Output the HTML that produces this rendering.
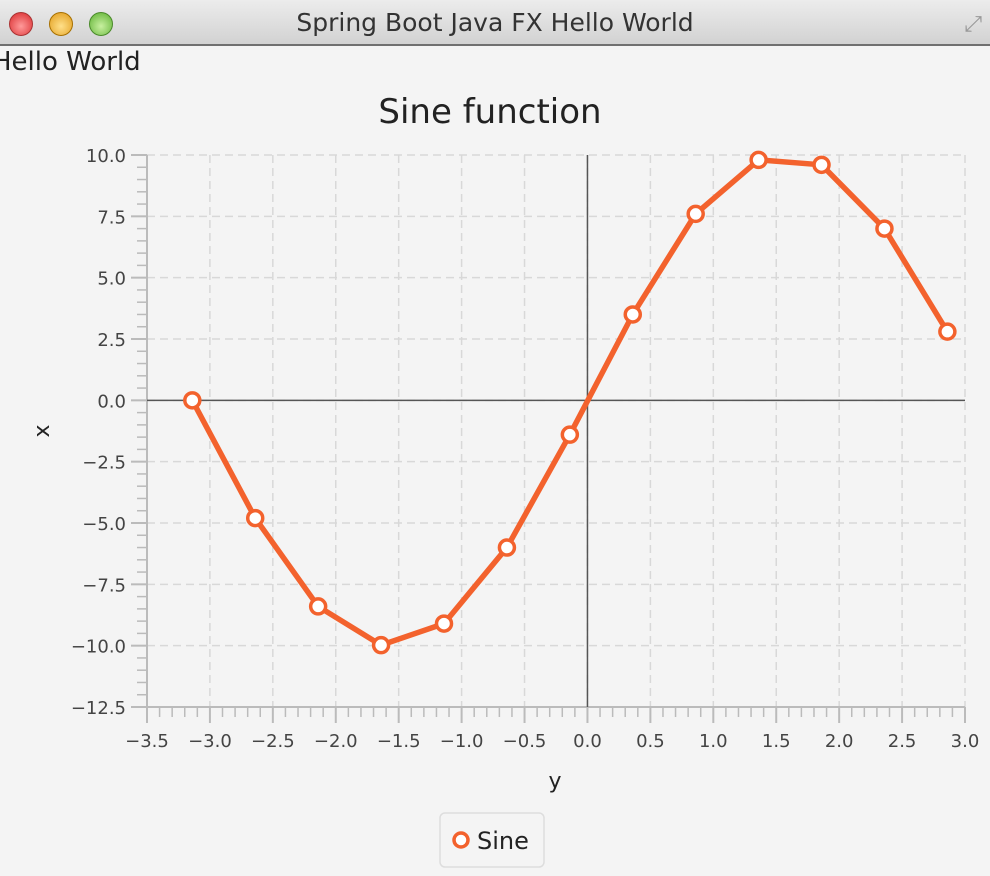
<!DOCTYPE html>
<html><head><meta charset="utf-8"><style>
body{margin:0;width:990px;height:876px;background:#f4f4f4;overflow:hidden;font-family:"DejaVu Sans","Liberation Sans",sans-serif;}
#titlebar{position:absolute;left:0;top:0;width:990px;height:44px;background:linear-gradient(#ececec,#d2d2d2);border-bottom:2px solid #707070;}
#titlebar .t{position:absolute;left:0;width:990px;top:8px;text-align:center;font-size:25px;color:#333;}
.btn{position:absolute;top:12px;width:22px;height:22px;border-radius:50%;}
#hello{position:absolute;left:-8px;top:47px;font-size:26px;color:#222;}
svg{position:absolute;left:0;top:0;font-family:"DejaVu Sans","Liberation Sans",sans-serif}
</style></head><body>
<div id="titlebar">
<div class="btn" style="left:9px;background:radial-gradient(circle at 50% 60%,#ff9a9a,#d8282a);border:1px solid #a33"></div>
<div class="btn" style="left:49px;background:radial-gradient(circle at 50% 60%,#ffe08a,#e09a18);border:1px solid #a77000"></div>
<div class="btn" style="left:89px;background:radial-gradient(circle at 50% 60%,#c8f0a0,#5cb030);border:1px solid #4a8a2a"></div>
<div class="t">Spring Boot Java FX Hello World</div>
<div style="position:absolute;right:8px;top:12px;font-size:22px;color:#999">⤢</div>
</div>
<div id="hello">Hello World</div>
<svg id="chart" width="990" height="876"></svg>
<script>
const xTicks=[-3.5,-3.0,-2.5,-2.0,-1.5,-1.0,-0.5,0.0,0.5,1.0,1.5,2.0,2.5,3.0];
const yTicks=[10.0,7.5,5.0,2.5,0.0,-2.5,-5.0,-7.5,-10.0,-12.5];
const xValues=[-3.14,-2.64,-2.14,-1.64,-1.14,-0.64,-0.14,0.36,0.86,1.36,1.86,2.36,2.86];
const yValues=[0.0,-4.8,-8.4,-9.98,-9.1,-6.0,-1.4,3.5,7.6,9.8,9.6,7.0,2.8];
const NS="http://www.w3.org/2000/svg";
const svg=document.getElementById('chart');
const L=147,R=965,T=155,B=707;
const xMin=-3.5,xMax=3.0,yMin=-12.5,yMax=10.0;
const sx=v=>L+(v-xMin)/(xMax-xMin)*(R-L);
const sy=v=>B-(v-yMin)/(yMax-yMin)*(B-T);
function el(tag,a,txt){const e=document.createElementNS(NS,tag);for(const k in a)e.setAttribute(k,a[k]);if(txt!==undefined)e.textContent=txt;svg.appendChild(e);return e;}
const fmt=v=>(v<0?'\u2212':'')+Math.abs(v).toFixed(1);
let t=el('text',{x:490,y:123,'text-anchor':'middle','font-size':34,fill:'#222'},'Sine function');


xTicks.forEach(v=>{const x=sx(v);
 if(v!==xMin){let g=el('line',{x1:x,x2:x,y1:T,y2:B,stroke:'#d8d8d8','stroke-width':1.5,'stroke-dasharray':'8,5'});}
 el('line',{x1:x,x2:x,y1:B,y2:B+16,stroke:'#bbb','stroke-width':2});
 let lb=el('text',{x:x,y:B+40,'text-anchor':'middle','font-size':18,fill:'#444'},fmt(v));
 
 
});
for(let i=0;i<xTicks.length-1;i++)for(let k=1;k<5;k++){const x=sx(xTicks[i]+k*0.1);el('line',{x1:x,x2:x,y1:B,y2:B+10,stroke:'#bbb','stroke-width':1.5});}
yTicks.forEach(v=>{const y=sy(v);
 if(v!==yMin){let g=el('line',{x1:L,x2:R,y1:y,y2:y,stroke:'#d8d8d8','stroke-width':1.5,'stroke-dasharray':'8,5'});}
 el('line',{x1:L-16,x2:L,y1:y,y2:y,stroke:'#bbb','stroke-width':2});
 let lb=el('text',{x:L-21,y:y+7,'text-anchor':'end','font-size':18,fill:'#444'},fmt(v));
 
 
});
for(let i=0;i<yTicks.length-1;i++)for(let k=1;k<5;k++){const y=sy(yTicks[i]-k*0.5);el('line',{x1:L-10,x2:L,y1:y,y2:y,stroke:'#bbb','stroke-width':1.5});}
el('line',{x1:L,x2:R,y1:B,y2:B,stroke:'#bbb','stroke-width':2});
el('line',{x1:L,x2:L,y1:T,y2:B,stroke:'#bbb','stroke-width':2});
el('line',{x1:L,x2:R,y1:sy(0),y2:sy(0),stroke:'#555','stroke-width':1.5});
el('line',{x1:sx(0),x2:sx(0),y1:T,y2:B,stroke:'#555','stroke-width':1.5});
let xt=el('text',{x:555,y:788,'text-anchor':'middle','font-size':22,fill:'#222'},'y');


let yt=el('text',{x:49,y:431,'text-anchor':'middle','font-size':22,fill:'#222',transform:'rotate(-90 49 431)'},'x');


const pts=xValues.map((x,i)=>sx(x)+','+sy(yValues[i])).join(' ');
let line=el('polyline',{points:pts,fill:'none',stroke:'#f3622d','stroke-width':5.5,'stroke-linejoin':'round'});


xValues.forEach((x,i)=>{let c=el('circle',{cx:sx(x),cy:sy(yValues[i]),r:7.5,fill:'#fff',stroke:'#f3622d','stroke-width':3.5});
 
 });
let lg=el('rect',{x:440,y:813,width:104,height:54,rx:5,fill:'#f4f4f4',stroke:'#ddd','stroke-width':1.5});


let lc=el('circle',{cx:461,cy:840,r:7,fill:'#fff',stroke:'#f3622d','stroke-width':3.5});


let lt=el('text',{x:477,y:849,'font-size':24,fill:'#222'},'Sine');


</script>
</body></html>
